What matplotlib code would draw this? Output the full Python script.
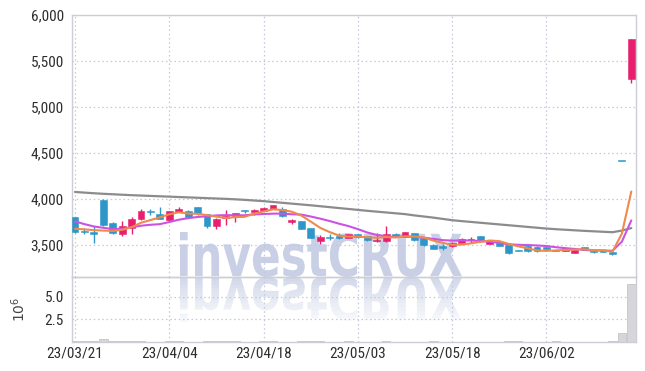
import matplotlib
matplotlib.use("Agg")
import matplotlib.pyplot as plt
import numpy as np
from matplotlib import font_manager
from matplotlib.textpath import TextPath
from matplotlib.patches import PathPatch
from matplotlib.font_manager import FontProperties
from matplotlib.transforms import Affine2D, Bbox
from matplotlib.ticker import FuncFormatter, FixedLocator

# ---------------- data ----------------
tick_labels = ['23/03/21', '23/04/04', '23/04/18', '23/05/03', '23/05/18', '23/06/02']

opens = [3800, 3655, 3635, 3990, 3740, 3620, 3685, 3780, 3870, 3830,
         3775, 3860, 3870, 3910, 3840, 3700, 3790, 3810, 3872, 3860,
         3870, 3893, 3895, 3745, 3755, 3680, 3540, 3582, 3587, 3575,
         3615, 3595, 3550, 3540, 3620, 3590, 3625, 3570, 3500, 3480,
         3482, 3525, 3555, 3595, 3510, 3525, 3500, 3437, 3490, 3480,
         3466, 3437, 3435, 3415, 3475, 3438, 3445, 3425, 4420, 5300]
highs = [3800, 3680, 3700, 3995, 3745, 3755, 3800, 3885, 3890, 3915,
         3870, 3910, 3875, 3910, 3840, 3790, 3880, 3850, 3880, 3885,
         3910, 3935, 3915, 3780, 3760, 3685, 3610, 3620, 3630, 3620,
         3620, 3600, 3625, 3700, 3625, 3640, 3630, 3575, 3505, 3510,
         3528, 3570, 3590, 3600, 3550, 3530, 3500, 3445, 3495, 3485,
         3480, 3445, 3470, 3450, 3478, 3440, 3448, 3428, 4420, 5740]
lows = [3625, 3620, 3520, 3705, 3620, 3600, 3620, 3770, 3820, 3780,
        3750, 3855, 3795, 3825, 3685, 3675, 3715, 3750, 3845, 3820,
        3865, 3890, 3805, 3730, 3670, 3570, 3510, 3550, 3560, 3570,
        3575, 3545, 3530, 3535, 3590, 3588, 3545, 3490, 3450, 3440,
        3480, 3520, 3525, 3535, 3505, 3485, 3405, 3430, 3425, 3425,
        3450, 3430, 3432, 3412, 3442, 3415, 3418, 3390, 4420, 5255]
closes = [3640, 3635, 3630, 3720, 3630, 3700, 3780, 3870, 3865, 3780,
          3865, 3890, 3800, 3850, 3710, 3785, 3815, 3845, 3870, 3880,
          3905, 3928, 3810, 3775, 3675, 3575, 3590, 3580, 3585, 3615,
          3580, 3550, 3555, 3620, 3595, 3635, 3550, 3495, 3455, 3475,
          3525, 3565, 3560, 3540, 3545, 3490, 3410, 3435, 3430, 3430,
          3464, 3435, 3465, 3445, 3445, 3420, 3420, 3400, 4420, 5740]
volume_m = [0.08, 0.06, 0.10, 0.35, 0.06, 0.09, 0.10, 0.08, 0.05, 0.04,
            0.07, 0.08, 0.05, 0.04, 0.09, 0.08, 0.07, 0.06, 0.05, 0.04,
            0.06, 0.07, 0.05, 0.04, 0.06, 0.08, 0.07, 0.05, 0.04, 0.06,
            0.05, 0.04, 0.05, 0.07, 0.04, 0.05, 0.04, 0.05, 0.06, 0.04,
            0.04, 0.05, 0.04, 0.04, 0.03, 0.04, 0.10, 0.08, 0.04, 0.03,
            0.04, 0.10, 0.04, 0.03, 0.04, 0.03, 0.04, 0.12, 1.00, 6.40]
ma_short = [3675, 3668, 3660, 3655, 3651, 3663, 3692, 3740, 3769, 3799,
            3832, 3854, 3840, 3837, 3823, 3807, 3792, 3801, 3805, 3839,
            3863, 3886, 3879, 3860, 3819, 3753, 3685, 3639, 3601, 3589,
            3590, 3582, 3577, 3584, 3580, 3591, 3591, 3579, 3546, 3522,
            3500, 3503, 3516, 3533, 3547, 3540, 3509, 3484, 3462, 3439,
            3434, 3439, 3445, 3448, 3451, 3442, 3439, 3426, 3621, 4080]
ma_mid = [3755, 3725, 3700, 3685, 3672, 3675, 3690, 3708, 3718, 3725,
          3748, 3773, 3790, 3803, 3811, 3820, 3823, 3821, 3821, 3831,
          3835, 3839, 3840, 3832, 3829, 3808, 3785, 3759, 3730, 3704,
          3671, 3634, 3608, 3593, 3585, 3591, 3587, 3578, 3565, 3551,
          3546, 3547, 3548, 3540, 3535, 3520, 3506, 3500, 3498, 3493,
          3487, 3474, 3464, 3455, 3445, 3438, 3439, 3435, 3534, 3765]
ma_long = [4075, 4068, 4061, 4055, 4050, 4045, 4040, 4036, 4032, 4028,
           4024, 4020, 4016, 4012, 4008, 4004, 4000, 3995, 3989, 3982,
           3975, 3966, 3957, 3948, 3939, 3930, 3920, 3910, 3900, 3890,
           3880, 3870, 3861, 3852, 3843, 3834, 3820, 3808, 3796, 3782,
           3768, 3758, 3749, 3740, 3731, 3722, 3713, 3704, 3695, 3686,
           3677, 3670, 3664, 3658, 3652, 3647, 3642, 3637, 3655, 3682]

# ---------------- style ----------------
names = {f.name for f in font_manager.fontManager.ttflist}
tick_family = 'DejaVu Sans'
for cand in ['Liberation Sans Narrow', 'Roboto Condensed', 'Open Sans Condensed', 'DejaVu Sans Condensed']:
    if cand in names:
        tick_family = cand
        break

UP = '#e81f6e'
DOWN = '#2e97c9'
GRID = '#c3c8de'
SPINE = '#cdcdd6'
TXT = '#2e2e2e'

W, H = 645, 371
fig = plt.figure(figsize=(W / 100, H / 100), dpi=100, facecolor='white')

def axrect(l, t, r, b):
    return [l / W, 1 - b / H, (r - l) / W, (b - t) / H]

ax = fig.add_axes(axrect(72, 15, 636, 277))
axv = fig.add_axes(axrect(72, 277, 636, 342), sharex=ax)
for a in (ax, axv):
    a.set_facecolor('none')
    for s in a.spines.values():
        s.set_color(SPINE)
        s.set_linewidth(1.0)
    a.tick_params(length=0, labelsize=11, labelcolor=TXT, pad=6)
    a.grid(True, color=GRID, linestyle=(0, (1.2, 2.2)), linewidth=0.9)
    a.set_axisbelow(True)

x = np.arange(len(closes))
o = np.array(opens, float)
c = np.array(closes, float)
hi = np.array(highs, float)
lo = np.array(lows, float)
cols = [UP if cc > oo else DOWN for oo, cc in zip(o, c)]

ax.vlines(x, lo, hi, colors=cols, linewidth=1.0, zorder=2)
body_bot = np.minimum(o, c)
body_h = np.maximum(np.abs(c - o), 14)
ax.bar(x, body_h, bottom=body_bot - np.where(np.abs(c - o) < 14, 7, 0), width=0.72,
       color=cols, edgecolor=cols, linewidth=0.4, zorder=3)

ax.plot(x, ma_long, color='#8c8c8c', linewidth=1.6, zorder=4, solid_capstyle='round')
ax.plot(x, ma_mid, color='#cc52e3', linewidth=1.5, zorder=5, solid_capstyle='round')
ax.plot(x, ma_short, color='#ee8a4c', linewidth=1.5, zorder=6, solid_capstyle='round')

ax.set_xlim(-0.32, len(closes) - 0.5)
ax.set_ylim(3150, 6000)
ax.yaxis.set_major_locator(FixedLocator([3500, 4000, 4500, 5000, 5500, 6000]))
ax.yaxis.set_major_formatter(FuncFormatter(lambda v, p: f'{int(v):,}'))
tick_pos = list(range(0, len(closes), 10))
ax.xaxis.set_major_locator(FixedLocator(tick_pos))
plt.setp(ax.get_xticklabels(), visible=False)

axv.bar(x, volume_m, width=0.92, color='#d6d6da', edgecolor='#c4c4ca', linewidth=0.6, zorder=3)
axv.set_ylim(0, 7.15)
axv.yaxis.set_major_locator(FixedLocator([2.5, 5.0]))
axv.yaxis.set_major_formatter(FuncFormatter(lambda v, p: f'{v:.1f}'))
axv.set_xticks(tick_pos)
axv.set_xticklabels(tick_labels)
axv.tick_params(axis='x', pad=3)
axv.set_ylabel(r'$\mathregular{10^6}$', fontsize=10, color='#444444', labelpad=12)

for a in (ax, axv):
    for lab in a.get_xticklabels() + a.get_yticklabels():
        lab.set_family([tick_family, 'DejaVu Sans'])

# ---------------- watermark ----------------
fp = FontProperties(family='DejaVu Sans', weight='bold')
tp = TextPath((0, 0), 'investCRUX', size=100, prop=fp)
ext = tp.get_extents()
x0, x1 = 180, 462
ytop, ybase = 232, 277
sx = (x1 - x0) / ext.width
sy = (ybase - ytop) / ext.height
WM = '#c9d0e6'
tr = Affine2D().translate(-ext.x0, -ext.y0).scale(sx, sy).translate(x0, H - ybase)
wm = PathPatch(tp, transform=tr, facecolor=WM, edgecolor='none', zorder=-1)
fig.add_artist(wm, clip=False)

n_bands = 12
band_h = 45 / n_bands
for k in range(n_bands):
    trr = Affine2D().translate(-ext.x0, -ext.y0).scale(sx, -sy).translate(x0, H - ybase)
    pr = PathPatch(tp, transform=trr, facecolor=WM, edgecolor='none', zorder=-1,
                   alpha=0.75 * (1 - k / n_bands) + 0.05)
    fig.add_artist(pr, clip=False)
    ytop_band = H - ybase - k * band_h
    pr.set_clip_box(Bbox.from_extents(0, ytop_band - band_h, W, ytop_band))
    pr.set_clip_on(True)

fig.savefig('out.png', dpi=100, facecolor='white')
